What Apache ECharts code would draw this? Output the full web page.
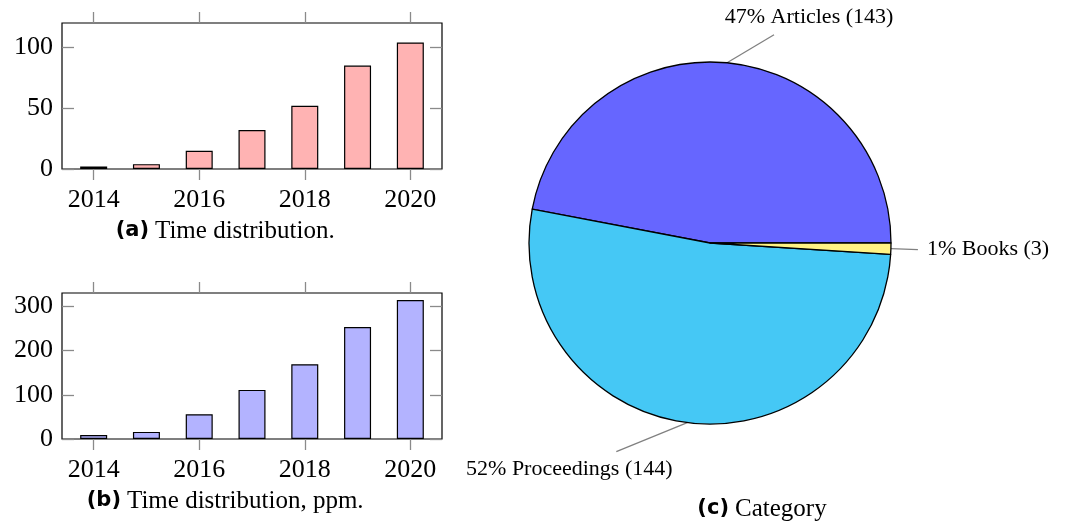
<!DOCTYPE html>
<html>
<head>
<meta charset="utf-8">
<script src="https://cdn.jsdelivr.net/npm/echarts@6/dist/echarts.min.js"></script>
<style>
html, body { margin: 0; padding: 0; background: #fff; }
#chart { width: 1068px; height: 525px; }
</style>
</head>
<body>
<div id="chart"></div>
<script>
// data
const years = [2014, 2015, 2016, 2017, 2018, 2019, 2020]
const yearTicks = [2014, 2016, 2018, 2020]
const countValues = [2, 4, 15, 32, 52, 85, 104]
const ppmValues = [9, 16, 56, 111, 169, 253, 314]
const countTicks = [0, 50, 100]
const ppmTicks = [0, 100, 200, 300]
const categories = ["Articles", "Proceedings", "Books"]
const categoryPercent = [47, 52, 1]
const categoryCount = [143, 144, 3]

const serif = "Liberation Serif"
const tickGray = "#8a8a8a"

// leader line offset from the slice edge, then label offset from the line end
const pinLine = [[47, -28], [-71, 29], [27, 1]]
const pinLabel = [[35, -18, "center"], [-47, 18, "center"], [9, 0, "left"]]

function xAxes(grid) {
    const base = {
        type: "value",
        gridIndex: grid,
        min: 2013.4,
        max: 2020.6,
        splitLine: { show: false },
        axisLine: { show: false, onZero: false },
        axisTick: { customValues: yearTicks, inside: false, length: 11, lineStyle: { color: tickGray, width: 1.3 } }
    }
    return [
        { ...base, position: "bottom",
          axisLabel: { customValues: yearTicks, formatter: v => String(v), fontFamily: serif, fontSize: 26, color: "#000", margin: 18 } },
        { ...base, position: "top", axisLabel: { show: false } }
    ]
}

function yAxes(grid, max, ticks) {
    const base = {
        type: "value",
        gridIndex: grid,
        min: 0,
        max: max,
        splitLine: { show: false },
        axisLine: { show: false },
        axisTick: { customValues: ticks, inside: true, length: 12, lineStyle: { color: tickGray, width: 1.3 } }
    }
    return [
        { ...base, position: "left",
          axisLabel: { customValues: ticks, fontFamily: serif, fontSize: 26, color: "#000", margin: 9 } },
        { ...base, position: "right", axisLabel: { show: false } }
    ]
}

function barSeries(axis, values, color) {
    return {
        type: "bar",
        xAxisIndex: axis,
        yAxisIndex: axis,
        barWidth: 27,
        data: years.map((y, i) => [y, values[i]]),
        itemStyle: { color: color, borderColor: "#000", borderWidth: 1.2 }
    }
}

// caption = bold sans tag + serif text, split at x
function caption(tag, text, x, y) {
    return [
        { text: tag, left: x, top: y + 1, textAlign: "right", padding: 0,
          textStyle: { fontFamily: "DejaVu Sans", fontWeight: "bold", fontSize: 21, color: "#000" } },
        { text: text, left: x + 6, top: y, textAlign: "left", padding: 0,
          textStyle: { fontFamily: serif, fontWeight: "normal", fontSize: 25, color: "#000" } }
    ]
}

const chart = echarts.init(document.getElementById("chart"))
chart.setOption({
    animation: false,
    title: [
        ...caption("(a)", "Time distribution.", 149, 219),
        ...caption("(b)", "Time distribution, ppm.", 121, 489),
        ...caption("(c)", "Category", 729, 497)
    ],
    grid: [
        { left: 62, top: 23, width: 380, height: 146, show: true, borderColor: "#000", borderWidth: 1.2 },
        { left: 62, top: 293, width: 380, height: 146, show: true, borderColor: "#000", borderWidth: 1.2 }
    ],
    xAxis: [...xAxes(0), ...xAxes(1)],
    yAxis: [...yAxes(0, 120, countTicks), ...yAxes(1, 330, ppmTicks)],
    series: [
        barSeries(0, countValues, "#ffb3b3"),
        barSeries(2, ppmValues, "#b3b3ff"),
        {
            type: "pie",
            center: [710, 243],
            radius: 181,
            startAngle: 0,
            clockwise: false,
            emphasis: { disabled: true },
            data: categories.map((c, i) => ({ name: c, value: categoryPercent[i] })),
            color: ["#6666ff", "#45c8f5", "#fff384"],
            itemStyle: { borderColor: "#000", borderWidth: 1.3 },
            label: {
                fontFamily: serif,
                fontSize: 22,
                color: "#000",
                formatter: p => categoryPercent[p.dataIndex] + "% " + p.name + " (" + categoryCount[p.dataIndex] + ")"
            },
            labelLine: { show: true, length: 10, length2: 10, lineStyle: { color: "#808080", width: 1.3 } },
            labelLayout: function (params) {
                const i = params.dataIndex
                const p0 = params.labelLinePoints[0]
                const end = [p0[0] + pinLine[i][0], p0[1] + pinLine[i][1]]
                return {
                    x: end[0] + pinLabel[i][0],
                    y: end[1] + pinLabel[i][1],
                    align: pinLabel[i][2],
                    verticalAlign: "middle",
                    labelLinePoints: [p0, end, end]
                }
            }
        }
    ]
})
</script>
</body>
</html>
